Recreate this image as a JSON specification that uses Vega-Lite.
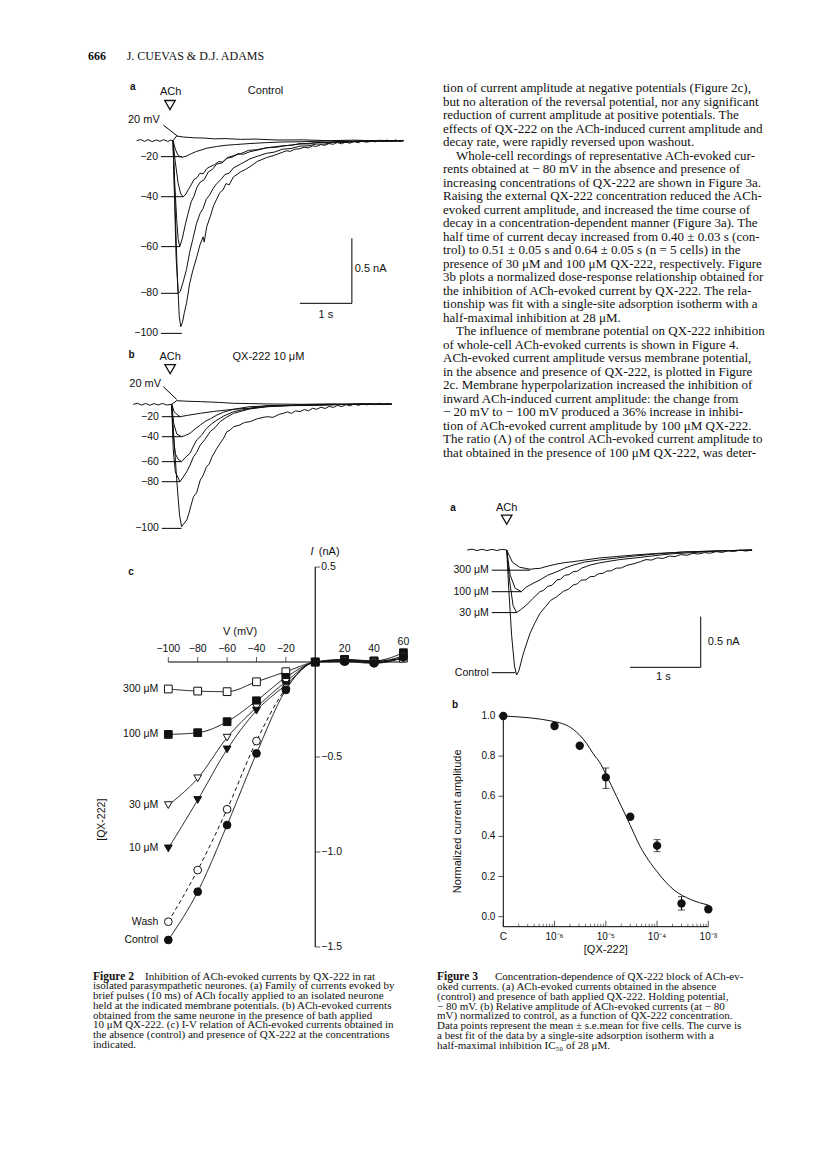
{
"$schema":"https://vega.github.io/schema/vega-lite/v6.json",
"background":"white",
"padding":{"left":85,"top":25,"right":5,"bottom":5},
"config":{"view":{"stroke":null},"mark":{"color":"#111"},"text":{"font":"Liberation Sans","fontSize":10.5,"color":"#111"},"axis":{"labelFont":"Liberation Sans","titleFont":"Liberation Sans","labelColor":"#111","titleColor":"#111","domainColor":"#111","tickColor":"#111"}},
"datasets":{
"tr2a":[
{"k":"+20","t":0,"i":0},{"k":"+20","t":0.07,"i":0.036},{"k":"+20","t":0.2,"i":0.028},{"k":"+20","t":0.4,"i":0.022},{"k":"+20","t":0.6,"i":0.02},{"k":"+20","t":0.8,"i":0.014},{"k":"+20","t":1.0,"i":0.016},{"k":"+20","t":1.3,"i":0.01},{"k":"+20","t":1.6,"i":0.012},{"k":"+20","t":2.0,"i":0.005},{"k":"+20","t":2.5,"i":0.006},{"k":"+20","t":3.0,"i":0.0},{"k":"+20","t":3.5,"i":0.004},{"k":"+20","t":4.0,"i":-0.003},{"k":"+20","t":4.43,"i":0.002},
{"k":"-20","t":0,"i":0},{"k":"-20","t":0.05,"i":-0.07},{"k":"-20","t":0.1,"i":-0.115},{"k":"-20","t":0.17,"i":-0.128},{"k":"-20","t":0.25,"i":-0.12},{"k":"-20","t":0.35,"i":-0.1},{"k":"-20","t":0.45,"i":-0.083},{"k":"-20","t":0.52,"i":-0.075},{"k":"-20","t":0.65,"i":-0.058},{"k":"-20","t":0.84,"i":-0.045},{"k":"-20","t":1.0,"i":-0.036},{"k":"-20","t":1.2,"i":-0.03},{"k":"-20","t":1.48,"i":-0.022},{"k":"-20","t":1.8,"i":-0.015},{"k":"-20","t":2.12,"i":-0.01},{"k":"-20","t":2.5,"i":-0.008},{"k":"-20","t":3.0,"i":-0.002},{"k":"-20","t":3.5,"i":-0.005},{"k":"-20","t":4.0,"i":0.002},{"k":"-20","t":4.43,"i":0},
{"k":"-40","t":0,"i":0},{"k":"-40","t":0.04,"i":-0.15},{"k":"-40","t":0.1,"i":-0.33},{"k":"-40","t":0.15,"i":-0.41},{"k":"-40","t":0.2,"i":-0.431},{"k":"-40","t":0.25,"i":-0.41},{"k":"-40","t":0.29,"i":-0.379},{"k":"-40","t":0.35,"i":-0.34},{"k":"-40","t":0.4,"i":-0.3},{"k":"-40","t":0.46,"i":-0.285},{"k":"-40","t":0.52,"i":-0.25},{"k":"-40","t":0.58,"i":-0.255},{"k":"-40","t":0.65,"i":-0.215},{"k":"-40","t":0.71,"i":-0.2},{"k":"-40","t":0.8,"i":-0.185},{"k":"-40","t":0.88,"i":-0.16},{"k":"-40","t":0.95,"i":-0.165},{"k":"-40","t":1.03,"i":-0.136},{"k":"-40","t":1.15,"i":-0.125},{"k":"-40","t":1.25,"i":-0.1},{"k":"-40","t":1.35,"i":-0.105},{"k":"-40","t":1.48,"i":-0.085},{"k":"-40","t":1.65,"i":-0.07},{"k":"-40","t":1.8,"i":-0.055},{"k":"-40","t":2.0,"i":-0.05},{"k":"-40","t":2.12,"i":-0.041},{"k":"-40","t":2.4,"i":-0.028},{"k":"-40","t":2.76,"i":-0.015},{"k":"-40","t":3.1,"i":-0.01},{"k":"-40","t":3.5,"i":-0.005},{"k":"-40","t":4.0,"i":0.0},{"k":"-40","t":4.43,"i":-0.003},
{"k":"-60","t":0,"i":0},{"k":"-60","t":0.03,"i":-0.3},{"k":"-60","t":0.07,"i":-0.6},{"k":"-60","t":0.1,"i":-0.76},{"k":"-60","t":0.13,"i":-0.815},{"k":"-60","t":0.18,"i":-0.75},{"k":"-60","t":0.24,"i":-0.64},{"k":"-60","t":0.29,"i":-0.56},{"k":"-60","t":0.35,"i":-0.47},{"k":"-60","t":0.4,"i":-0.43},{"k":"-60","t":0.46,"i":-0.36},{"k":"-60","t":0.52,"i":-0.32},{"k":"-60","t":0.6,"i":-0.3},{"k":"-60","t":0.68,"i":-0.24},{"k":"-60","t":0.76,"i":-0.22},{"k":"-60","t":0.84,"i":-0.18},{"k":"-60","t":0.95,"i":-0.17},{"k":"-60","t":1.05,"i":-0.13},{"k":"-60","t":1.16,"i":-0.115},{"k":"-60","t":1.3,"i":-0.1},{"k":"-60","t":1.45,"i":-0.075},{"k":"-60","t":1.6,"i":-0.07},{"k":"-60","t":1.8,"i":-0.055},{"k":"-60","t":2.1,"i":-0.04},{"k":"-60","t":2.3,"i":-0.034},{"k":"-60","t":2.44,"i":-0.022},{"k":"-60","t":2.6,"i":-0.026},{"k":"-60","t":2.8,"i":-0.012},{"k":"-60","t":3.0,"i":-0.016},{"k":"-60","t":3.2,"i":-0.005},{"k":"-60","t":3.45,"i":-0.01},{"k":"-60","t":3.7,"i":0.0},{"k":"-60","t":4.0,"i":-0.006},{"k":"-60","t":4.43,"i":0},
{"k":"-80","t":0,"i":0},{"k":"-80","t":0.03,"i":-0.45},{"k":"-80","t":0.06,"i":-0.9},{"k":"-80","t":0.1,"i":-1.174},{"k":"-80","t":0.14,"i":-1.16},{"k":"-80","t":0.2,"i":-1.08},{"k":"-80","t":0.26,"i":-0.99},{"k":"-80","t":0.32,"i":-0.86},{"k":"-80","t":0.38,"i":-0.76},{"k":"-80","t":0.45,"i":-0.64},{"k":"-80","t":0.52,"i":-0.56},{"k":"-80","t":0.58,"i":-0.52},{"k":"-80","t":0.64,"i":-0.45},{"k":"-80","t":0.7,"i":-0.42},{"k":"-80","t":0.77,"i":-0.37},{"k":"-80","t":0.84,"i":-0.33},{"k":"-80","t":0.92,"i":-0.3},{"k":"-80","t":1.0,"i":-0.26},{"k":"-80","t":1.08,"i":-0.25},{"k":"-80","t":1.16,"i":-0.21},{"k":"-80","t":1.3,"i":-0.18},{"k":"-80","t":1.48,"i":-0.14},{"k":"-80","t":1.62,"i":-0.12},{"k":"-80","t":1.8,"i":-0.097},{"k":"-80","t":1.95,"i":-0.088},{"k":"-80","t":2.1,"i":-0.066},{"k":"-80","t":2.27,"i":-0.06},{"k":"-80","t":2.44,"i":-0.042},{"k":"-80","t":2.6,"i":-0.04},{"k":"-80","t":2.75,"i":-0.026},{"k":"-80","t":2.92,"i":-0.026},{"k":"-80","t":3.08,"i":-0.012},{"k":"-80","t":3.3,"i":-0.014},{"k":"-80","t":3.5,"i":-0.004},{"k":"-80","t":3.75,"i":-0.009},{"k":"-80","t":4.0,"i":0.002},{"k":"-80","t":4.2,"i":-0.005},{"k":"-80","t":4.43,"i":0},
{"k":"-100","t":-0.7,"i":0},{"k":"-100","t":-0.62,"i":0.009},{"k":"-100","t":-0.55,"i":-0.006},{"k":"-100","t":-0.48,"i":0.008},{"k":"-100","t":-0.4,"i":-0.007},{"k":"-100","t":-0.32,"i":0.006},{"k":"-100","t":-0.25,"i":-0.005},{"k":"-100","t":-0.18,"i":0.008},{"k":"-100","t":-0.1,"i":-0.006},{"k":"-100","t":-0.04,"i":0.004},{"k":"-100","t":0,"i":0},{"k":"-100","t":0.04,"i":-0.5},{"k":"-100","t":0.08,"i":-1.0},{"k":"-100","t":0.12,"i":-1.35},{"k":"-100","t":0.15,"i":-1.431},{"k":"-100","t":0.18,"i":-1.4},{"k":"-100","t":0.22,"i":-1.32},{"k":"-100","t":0.26,"i":-1.25},{"k":"-100","t":0.32,"i":-1.1},{"k":"-100","t":0.38,"i":-1.0},{"k":"-100","t":0.46,"i":-0.89},{"k":"-100","t":0.52,"i":-0.8},{"k":"-100","t":0.58,"i":-0.74},{"k":"-100","t":0.6,"i":-0.78},{"k":"-100","t":0.65,"i":-0.66},{"k":"-100","t":0.72,"i":-0.58},{"k":"-100","t":0.78,"i":-0.5},{"k":"-100","t":0.84,"i":-0.45},{"k":"-100","t":0.9,"i":-0.4},{"k":"-100","t":0.96,"i":-0.38},{"k":"-100","t":1.02,"i":-0.33},{"k":"-100","t":1.08,"i":-0.34},{"k":"-100","t":1.16,"i":-0.28},{"k":"-100","t":1.3,"i":-0.24},{"k":"-100","t":1.4,"i":-0.22},{"k":"-100","t":1.48,"i":-0.2},{"k":"-100","t":1.62,"i":-0.16},{"k":"-100","t":1.8,"i":-0.13},{"k":"-100","t":1.95,"i":-0.112},{"k":"-100","t":2.1,"i":-0.09},{"k":"-100","t":2.18,"i":-0.078},{"k":"-100","t":2.26,"i":-0.082},{"k":"-100","t":2.34,"i":-0.066},{"k":"-100","t":2.44,"i":-0.062},{"k":"-100","t":2.52,"i":-0.05},{"k":"-100","t":2.6,"i":-0.056},{"k":"-100","t":2.68,"i":-0.04},{"k":"-100","t":2.76,"i":-0.044},{"k":"-100","t":2.84,"i":-0.03},{"k":"-100","t":2.92,"i":-0.036},{"k":"-100","t":3.0,"i":-0.022},{"k":"-100","t":3.08,"i":-0.028},{"k":"-100","t":3.16,"i":-0.014},{"k":"-100","t":3.24,"i":-0.024},{"k":"-100","t":3.32,"i":-0.01},{"k":"-100","t":3.4,"i":-0.02},{"k":"-100","t":3.48,"i":-0.006},{"k":"-100","t":3.56,"i":-0.016},{"k":"-100","t":3.64,"i":-0.002},{"k":"-100","t":3.72,"i":-0.012},{"k":"-100","t":3.8,"i":0.002},{"k":"-100","t":3.88,"i":-0.01},{"k":"-100","t":3.96,"i":0.004},{"k":"-100","t":4.04,"i":-0.008},{"k":"-100","t":4.12,"i":0.004},{"k":"-100","t":4.2,"i":-0.006},{"k":"-100","t":4.28,"i":0.005},{"k":"-100","t":4.36,"i":-0.004},{"k":"-100","t":4.43,"i":0.002}
],
"tr2b":[
{"k":"+20","t":0,"i":0},{"k":"+20","t":0.096,"i":0.028},{"k":"+20","t":0.3,"i":0.024},{"k":"+20","t":0.55,"i":0.021},{"k":"+20","t":0.9,"i":0.015},{"k":"+20","t":1.19,"i":0.008},{"k":"+20","t":1.5,"i":0.006},{"k":"+20","t":1.83,"i":0.003},{"k":"+20","t":2.5,"i":0.0},{"k":"+20","t":3.1,"i":0.004},{"k":"+20","t":3.6,"i":-0.002},{"k":"+20","t":4.23,"i":0.002},
{"k":"-20","t":0,"i":0},{"k":"-20","t":0.05,"i":-0.06},{"k":"-20","t":0.16,"i":-0.095},{"k":"-20","t":0.3,"i":-0.085},{"k":"-20","t":0.55,"i":-0.069},{"k":"-20","t":0.8,"i":-0.055},{"k":"-20","t":1.19,"i":-0.038},{"k":"-20","t":1.5,"i":-0.03},{"k":"-20","t":1.83,"i":-0.01},{"k":"-20","t":2.3,"i":-0.008},{"k":"-20","t":3.0,"i":-0.003},{"k":"-20","t":3.6,"i":0.003},{"k":"-20","t":4.23,"i":0},
{"k":"-40","t":0,"i":0},{"k":"-40","t":0.04,"i":-0.15},{"k":"-40","t":0.1,"i":-0.23},{"k":"-40","t":0.19,"i":-0.249},{"k":"-40","t":0.26,"i":-0.24},{"k":"-40","t":0.35,"i":-0.223},{"k":"-40","t":0.45,"i":-0.19},{"k":"-40","t":0.55,"i":-0.159},{"k":"-40","t":0.65,"i":-0.13},{"k":"-40","t":0.75,"i":-0.11},{"k":"-40","t":0.87,"i":-0.082},{"k":"-40","t":1.0,"i":-0.06},{"k":"-40","t":1.19,"i":-0.038},{"k":"-40","t":1.5,"i":-0.018},{"k":"-40","t":2.0,"i":-0.01},{"k":"-40","t":2.6,"i":-0.005},{"k":"-40","t":3.3,"i":0},{"k":"-40","t":4.23,"i":0.002},
{"k":"-60","t":0,"i":0},{"k":"-60","t":0.03,"i":-0.25},{"k":"-60","t":0.07,"i":-0.38},{"k":"-60","t":0.12,"i":-0.42},{"k":"-60","t":0.19,"i":-0.441},{"k":"-60","t":0.26,"i":-0.41},{"k":"-60","t":0.35,"i":-0.377},{"k":"-60","t":0.42,"i":-0.32},{"k":"-60","t":0.48,"i":-0.274},{"k":"-60","t":0.57,"i":-0.24},{"k":"-60","t":0.67,"i":-0.185},{"k":"-60","t":0.77,"i":-0.15},{"k":"-60","t":0.87,"i":-0.121},{"k":"-60","t":1.0,"i":-0.09},{"k":"-60","t":1.19,"i":-0.056},{"k":"-60","t":1.5,"i":-0.031},{"k":"-60","t":1.83,"i":-0.018},{"k":"-60","t":2.3,"i":-0.01},{"k":"-60","t":3.0,"i":-0.005},{"k":"-60","t":3.6,"i":0.002},{"k":"-60","t":4.23,"i":0},
{"k":"-80","t":0,"i":0},{"k":"-80","t":0.03,"i":-0.35},{"k":"-80","t":0.07,"i":-0.52},{"k":"-80","t":0.16,"i":-0.595},{"k":"-80","t":0.22,"i":-0.56},{"k":"-80","t":0.29,"i":-0.518},{"k":"-80","t":0.35,"i":-0.47},{"k":"-80","t":0.42,"i":-0.403},{"k":"-80","t":0.48,"i":-0.37},{"k":"-80","t":0.55,"i":-0.313},{"k":"-80","t":0.64,"i":-0.27},{"k":"-80","t":0.74,"i":-0.21},{"k":"-80","t":0.83,"i":-0.18},{"k":"-80","t":0.93,"i":-0.133},{"k":"-80","t":1.05,"i":-0.1},{"k":"-80","t":1.19,"i":-0.069},{"k":"-80","t":1.5,"i":-0.036},{"k":"-80","t":1.83,"i":-0.018},{"k":"-80","t":2.47,"i":-0.005},{"k":"-80","t":3.1,"i":-0.002},{"k":"-80","t":3.7,"i":0.003},{"k":"-80","t":4.23,"i":0},
{"k":"-100","t":-0.74,"i":0},{"k":"-100","t":-0.66,"i":0.008},{"k":"-100","t":-0.58,"i":-0.006},{"k":"-100","t":-0.5,"i":0.007},{"k":"-100","t":-0.42,"i":-0.007},{"k":"-100","t":-0.34,"i":0.006},{"k":"-100","t":-0.26,"i":-0.005},{"k":"-100","t":-0.18,"i":0.007},{"k":"-100","t":-0.1,"i":-0.005},{"k":"-100","t":0,"i":0},{"k":"-100","t":0.05,"i":-0.3},{"k":"-100","t":0.1,"i":-0.6},{"k":"-100","t":0.15,"i":-0.85},{"k":"-100","t":0.19,"i":-0.941},{"k":"-100","t":0.23,"i":-0.92},{"k":"-100","t":0.29,"i":-0.89},{"k":"-100","t":0.33,"i":-0.84},{"k":"-100","t":0.37,"i":-0.78},{"k":"-100","t":0.42,"i":-0.71},{"k":"-100","t":0.48,"i":-0.68},{"k":"-100","t":0.55,"i":-0.582},{"k":"-100","t":0.6,"i":-0.55},{"k":"-100","t":0.67,"i":-0.479},{"k":"-100","t":0.72,"i":-0.46},{"k":"-100","t":0.78,"i":-0.4},{"k":"-100","t":0.87,"i":-0.338},{"k":"-100","t":0.93,"i":-0.3},{"k":"-100","t":1.0,"i":-0.26},{"k":"-100","t":1.06,"i":-0.21},{"k":"-100","t":1.12,"i":-0.2},{"k":"-100","t":1.19,"i":-0.172},{"k":"-100","t":1.3,"i":-0.16},{"k":"-100","t":1.4,"i":-0.14},{"k":"-100","t":1.51,"i":-0.133},{"k":"-100","t":1.65,"i":-0.11},{"k":"-100","t":1.83,"i":-0.095},{"k":"-100","t":1.95,"i":-0.1},{"k":"-100","t":2.07,"i":-0.076},{"k":"-100","t":2.15,"i":-0.069},{"k":"-100","t":2.23,"i":-0.058},{"k":"-100","t":2.3,"i":-0.07},{"k":"-100","t":2.38,"i":-0.05},{"k":"-100","t":2.47,"i":-0.056},{"k":"-100","t":2.55,"i":-0.04},{"k":"-100","t":2.63,"i":-0.05},{"k":"-100","t":2.71,"i":-0.03},{"k":"-100","t":2.79,"i":-0.038},{"k":"-100","t":2.87,"i":-0.022},{"k":"-100","t":2.95,"i":-0.032},{"k":"-100","t":3.03,"i":-0.016},{"k":"-100","t":3.11,"i":-0.024},{"k":"-100","t":3.19,"i":-0.008},{"k":"-100","t":3.27,"i":-0.018},{"k":"-100","t":3.35,"i":-0.002},{"k":"-100","t":3.43,"i":-0.012},{"k":"-100","t":3.51,"i":0.004},{"k":"-100","t":3.59,"i":-0.008},{"k":"-100","t":3.67,"i":0.006},{"k":"-100","t":3.75,"i":-0.004},{"k":"-100","t":3.83,"i":0.007},{"k":"-100","t":3.91,"i":-0.003},{"k":"-100","t":3.99,"i":0.008},{"k":"-100","t":4.07,"i":-0.002},{"k":"-100","t":4.15,"i":0.006},{"k":"-100","t":4.23,"i":0.0}
],
"tr3a":[
{"k":"C","t":-0.56,"i":0},{"k":"C","t":-0.49,"i":0.008},{"k":"C","t":-0.42,"i":-0.006},{"k":"C","t":-0.35,"i":0.007},{"k":"C","t":-0.28,"i":-0.006},{"k":"C","t":-0.21,"i":0.006},{"k":"C","t":-0.14,"i":-0.005},{"k":"C","t":-0.07,"i":0.006},{"k":"C","t":0,"i":0},{"k":"C","t":0.03,"i":-0.4},{"k":"C","t":0.07,"i":-0.85},{"k":"C","t":0.11,"i":-1.15},{"k":"C","t":0.14,"i":-1.238},{"k":"C","t":0.17,"i":-1.2},{"k":"C","t":0.2,"i":-1.12},{"k":"C","t":0.236,"i":-1.023},{"k":"C","t":0.28,"i":-0.93},{"k":"C","t":0.33,"i":-0.825},{"k":"C","t":0.4,"i":-0.72},{"k":"C","t":0.47,"i":-0.627},{"k":"C","t":0.55,"i":-0.56},{"k":"C","t":0.62,"i":-0.5},{"k":"C","t":0.71,"i":-0.462},{"k":"C","t":0.8,"i":-0.41},{"k":"C","t":0.87,"i":-0.39},{"k":"C","t":0.94,"i":-0.347},{"k":"C","t":1.0,"i":-0.335},{"k":"C","t":1.05,"i":-0.3},{"k":"C","t":1.12,"i":-0.295},{"k":"C","t":1.18,"i":-0.264},{"k":"C","t":1.24,"i":-0.262},{"k":"C","t":1.3,"i":-0.235},{"k":"C","t":1.36,"i":-0.232},{"k":"C","t":1.41,"i":-0.21},{"k":"C","t":1.48,"i":-0.205},{"k":"C","t":1.55,"i":-0.18},{"k":"C","t":1.62,"i":-0.178},{"k":"C","t":1.7,"i":-0.152},{"k":"C","t":1.8,"i":-0.136},{"k":"C","t":1.89,"i":-0.116},{"k":"C","t":1.97,"i":-0.095},{"k":"C","t":2.05,"i":-0.1},{"k":"C","t":2.13,"i":-0.078},{"k":"C","t":2.21,"i":-0.084},{"k":"C","t":2.3,"i":-0.06},{"k":"C","t":2.38,"i":-0.066},{"k":"C","t":2.46,"i":-0.046},{"k":"C","t":2.55,"i":-0.052},{"k":"C","t":2.63,"i":-0.034},{"k":"C","t":2.71,"i":-0.04},{"k":"C","t":2.8,"i":-0.026},{"k":"C","t":2.88,"i":-0.032},{"k":"C","t":2.96,"i":-0.016},{"k":"C","t":3.05,"i":-0.024},{"k":"C","t":3.13,"i":-0.008},{"k":"C","t":3.21,"i":-0.016},{"k":"C","t":3.3,"i":-0.002},{"k":"C","t":3.38,"i":-0.01},{"k":"C","t":3.47,"i":-0.002},
{"k":"30","t":0,"i":0},{"k":"30","t":0.04,"i":-0.3},{"k":"30","t":0.09,"i":-0.55},{"k":"30","t":0.14,"i":-0.62},{"k":"30","t":0.2,"i":-0.59},{"k":"30","t":0.28,"i":-0.545},{"k":"30","t":0.37,"i":-0.48},{"k":"30","t":0.47,"i":-0.413},{"k":"30","t":0.52,"i":-0.4},{"k":"30","t":0.58,"i":-0.36},{"k":"30","t":0.64,"i":-0.35},{"k":"30","t":0.71,"i":-0.297},{"k":"30","t":0.76,"i":-0.29},{"k":"30","t":0.82,"i":-0.25},{"k":"30","t":0.88,"i":-0.245},{"k":"30","t":0.94,"i":-0.215},{"k":"30","t":1.0,"i":-0.21},{"k":"30","t":1.06,"i":-0.18},{"k":"30","t":1.18,"i":-0.149},{"k":"30","t":1.3,"i":-0.13},{"k":"30","t":1.41,"i":-0.116},{"k":"30","t":1.6,"i":-0.095},{"k":"30","t":1.8,"i":-0.08},{"k":"30","t":2.05,"i":-0.06},{"k":"30","t":2.3,"i":-0.04},{"k":"30","t":2.65,"i":-0.025},{"k":"30","t":3.0,"i":-0.01},{"k":"30","t":3.47,"i":0},
{"k":"100","t":0,"i":0},{"k":"100","t":0.05,"i":-0.25},{"k":"100","t":0.12,"i":-0.38},{"k":"100","t":0.21,"i":-0.413},{"k":"100","t":0.27,"i":-0.37},{"k":"100","t":0.33,"i":-0.347},{"k":"100","t":0.4,"i":-0.32},{"k":"100","t":0.47,"i":-0.297},{"k":"100","t":0.58,"i":-0.25},{"k":"100","t":0.71,"i":-0.215},{"k":"100","t":0.82,"i":-0.18},{"k":"100","t":0.94,"i":-0.149},{"k":"100","t":1.1,"i":-0.12},{"k":"100","t":1.3,"i":-0.1},{"k":"100","t":1.55,"i":-0.08},{"k":"100","t":1.8,"i":-0.06},{"k":"100","t":2.1,"i":-0.04},{"k":"100","t":2.5,"i":-0.02},{"k":"100","t":3.0,"i":-0.01},{"k":"100","t":3.47,"i":0},
{"k":"300","t":0,"i":0},{"k":"300","t":0.08,"i":-0.12},{"k":"300","t":0.18,"i":-0.17},{"k":"300","t":0.33,"i":-0.191},{"k":"300","t":0.4,"i":-0.185},{"k":"300","t":0.47,"i":-0.182},{"k":"300","t":0.58,"i":-0.16},{"k":"300","t":0.71,"i":-0.139},{"k":"300","t":0.82,"i":-0.125},{"k":"300","t":0.94,"i":-0.116},{"k":"300","t":1.1,"i":-0.1},{"k":"300","t":1.3,"i":-0.08},{"k":"300","t":1.55,"i":-0.065},{"k":"300","t":1.8,"i":-0.05},{"k":"300","t":2.1,"i":-0.035},{"k":"300","t":2.5,"i":-0.02},{"k":"300","t":3.0,"i":-0.008},{"k":"300","t":3.47,"i":0}
],
"lab2a":[{"v":"−20","x0":-0.23,"pt":0.17,"li":-0.123},{"v":"−40","x0":-0.23,"pt":0.2,"li":-0.431},{"v":"−60","x0":-0.23,"pt":0.13,"li":-0.815},{"v":"−80","x0":-0.23,"pt":0.1,"li":-1.174},{"v":"−100","x0":-0.23,"pt":0.17,"li":-1.482}],
"ann2a":[{"txt":"ACh","x":-0.045,"y":0.377},{"txt":"Control","x":1.78,"y":0.385},{"txt":"20 mV","x":-0.56,"y":0.16},{"txt":"0.5 nA","x":3.8,"y":-0.987},{"txt":"1 s","x":2.94,"y":-1.341}],
"seg2a":[{"x":-0.186,"y":0.12,"x2":0.083,"y2":0.036},{"x":2.44,"y":-1.251,"x2":3.44,"y2":-1.251},{"x":3.44,"y":-0.751,"x2":3.44,"y2":-1.251}],
"lab2b":[{"v":"−20","x0":-0.19,"pt":0.16,"li":-0.095},{"v":"−40","x0":-0.19,"pt":0.19,"li":-0.249},{"v":"−60","x0":-0.19,"pt":0.19,"li":-0.441},{"v":"−80","x0":-0.19,"pt":0.16,"li":-0.595},{"v":"−100","x0":-0.19,"pt":0.19,"li":-0.954}],
"ann2b":[{"txt":"ACh","x":-0.03,"y":0.362},{"txt":"QX-222 10 μM","x":1.86,"y":0.362},{"txt":"20 mV","x":-0.51,"y":0.154}],
"seg2b":[{"x":-0.16,"y":0.135,"x2":0.096,"y2":0.038}],
"lab3a":[{"v":"300 μM","x0":-0.212,"pt":0.33,"li":-0.2},{"v":"100 μM","x0":-0.212,"pt":0.21,"li":-0.413},{"v":"30 μM","x0":-0.212,"pt":0.14,"li":-0.62},{"v":"Control","x0":-0.212,"pt":0.12,"li":-1.215}],
"ann3a":[{"txt":"ACh","x":0.0,"y":0.42},{"txt":"0.5 nA","x":3.07,"y":-0.908},{"txt":"1 s","x":2.216,"y":-1.254}],
"seg3a":[{"x":1.744,"y":-1.162,"x2":2.744,"y2":-1.162},{"x":2.744,"y":-0.66,"x2":2.744,"y2":-1.162}],
"iv":[
{"s":"300 μM","v":-100,"i":-0.142},{"s":"300 μM","v":-80,"i":-0.153},{"s":"300 μM","v":-60,"i":-0.156},{"s":"300 μM","v":-40,"i":-0.104},{"s":"300 μM","v":-20,"i":-0.051},{"s":"300 μM","v":0,"i":0},{"s":"300 μM","v":20,"i":0.01},{"s":"300 μM","v":40,"i":0.004},{"s":"300 μM","v":60,"i":0.02},
{"s":"100 μM","v":-100,"i":-0.381},{"s":"100 μM","v":-80,"i":-0.372},{"s":"100 μM","v":-60,"i":-0.314},{"s":"100 μM","v":-40,"i":-0.204},{"s":"100 μM","v":-20,"i":-0.081},{"s":"100 μM","v":0,"i":0},{"s":"100 μM","v":20,"i":0.014},{"s":"100 μM","v":40,"i":0.006},{"s":"100 μM","v":60,"i":0.049},
{"s":"30 μM","v":-100,"i":-0.753},{"s":"30 μM","v":-80,"i":-0.612},{"s":"30 μM","v":-60,"i":-0.398},{"s":"30 μM","v":-40,"i":-0.239},{"s":"30 μM","v":-20,"i":-0.104},{"s":"30 μM","v":0,"i":0},{"s":"30 μM","v":20,"i":0.008},{"s":"30 μM","v":40,"i":-0.004},{"s":"30 μM","v":60,"i":0.02},
{"s":"10 μM","v":-100,"i":-0.981},{"s":"10 μM","v":-80,"i":-0.726},{"s":"10 μM","v":-60,"i":-0.46},{"s":"10 μM","v":-40,"i":-0.256},{"s":"10 μM","v":-20,"i":-0.121},{"s":"10 μM","v":0,"i":0},{"s":"10 μM","v":20,"i":0.007},{"s":"10 μM","v":40,"i":0.002},{"s":"10 μM","v":60,"i":0.032},
{"s":"Wash","v":-100,"i":-1.367},{"s":"Wash","v":-80,"i":-1.095},{"s":"Wash","v":-60,"i":-0.775},{"s":"Wash","v":-40,"i":-0.416},{"s":"Wash","v":-20,"i":-0.139},{"s":"Wash","v":0,"i":0},{"s":"Wash","v":20,"i":0.006},{"s":"Wash","v":40,"i":-0.002},{"s":"Wash","v":60,"i":0.028},
{"s":"Control","v":-100,"i":-1.463},{"s":"Control","v":-80,"i":-1.209},{"s":"Control","v":-60,"i":-0.858},{"s":"Control","v":-40,"i":-0.481},{"s":"Control","v":-20,"i":-0.147},{"s":"Control","v":0,"i":0},{"s":"Control","v":20,"i":0.002},{"s":"Control","v":40,"i":-0.007},{"s":"Control","v":60,"i":0.025}
],
"axes2c":[{"x":-100,"y":0,"x2":60,"y2":0},{"x":0,"y":-1.5,"x2":0,"y2":0.5}],
"vt":[{"v":-100,"l":"−100"},{"v":-80,"l":"−80"},{"v":-60,"l":"−60"},{"v":-40,"l":"−40"},{"v":-20,"l":"−20"},{"v":20,"l":"20"},{"v":40,"l":"40"},{"v":60,"l":"60"}],
"it":[{"i":0.5,"l":"0.5"},{"i":-0.5,"l":"−0.5"},{"i":-1.0,"l":"−1.0"},{"i":-1.5,"l":"−1.5"}],
"ann2c":[{"txt":"V (mV)","x":-51.2,"y":0.159},{"txt":"(nA)","x":9.5,"y":0.577}],
"dr":[{"c":1e-7,"y":1.0},{"c":1e-6,"y":0.95,"lo":0.94,"hi":0.962},{"c":3.1e-6,"y":0.852},{"c":1e-5,"y":0.694,"lo":0.639,"hi":0.741},{"c":3e-5,"y":0.498},{"c":1e-4,"y":0.354,"lo":0.324,"hi":0.384},{"c":3e-4,"y":0.066,"lo":0.033,"hi":0.1},{"c":1e-3,"y":0.037}],
"fit":[{"c":1e-7,"y":1.0},{"c":1e-6,"y":0.972},{"c":2.3e-6,"y":0.934},{"c":4.2e-6,"y":0.864},{"c":5.6e-6,"y":0.814},{"c":8e-6,"y":0.76},{"c":1e-5,"y":0.711},{"c":1.63e-5,"y":0.598},{"c":2.6e-5,"y":0.49},{"c":4.7e-5,"y":0.349},{"c":1e-4,"y":0.224},{"c":2.14e-4,"y":0.133},{"c":4.5e-4,"y":0.086},{"c":1e-3,"y":0.058}],
"ax3b":[{"x":1e-7,"y":-0.05,"x2":1e-7,"y2":1.0},{"x":1e-7,"y":-0.05,"x2":1e-3,"y2":-0.05}],
"yt3b":[{"y":0,"l":"0.0"},{"y":0.2,"l":"0.2"},{"y":0.4,"l":"0.4"},{"y":0.6,"l":"0.6"},{"y":0.8,"l":"0.8"},{"y":1.0,"l":"1.0"}],
"major":[{"c":1e-7,"l":"C"},{"c":1e-6,"l":"10⁻⁶"},{"c":1e-5,"l":"10⁻⁵"},{"c":1e-4,"l":"10⁻⁴"},{"c":1e-3,"l":"10⁻³"}],
"minor":[{"c":2e-7},{"c":3e-7},{"c":4e-7},{"c":5e-7},{"c":6e-7},{"c":7e-7},{"c":8e-7},{"c":9e-7},{"c":2e-6},{"c":3e-6},{"c":4e-6},{"c":5e-6},{"c":6e-6},{"c":7e-6},{"c":8e-6},{"c":9e-6},{"c":2e-5},{"c":3e-5},{"c":4e-5},{"c":5e-5},{"c":6e-5},{"c":7e-5},{"c":8e-5},{"c":9e-5},{"c":2e-4},{"c":3e-4},{"c":4e-4},{"c":5e-4},{"c":6e-4},{"c":7e-4},{"c":8e-4},{"c":9e-4}]
},
"spacing":7,
"hconcat":[
{"bounds":"flush","spacing":0,"vconcat":[
 {"width":345,"height":53,"data":{"values":[{"a":1}]},
  "layer":[
   {"mark":{"type":"text","text":"666","font":"Liberation Serif","fontWeight":"bold","fontSize":12,"align":"left","baseline":"middle"},
    "encoding":{"x":{"datum":3,"type":"quantitative","scale":{"domain":[0,345],"nice":false,"zero":false},"axis":null},"y":{"datum":22,"type":"quantitative","scale":{"domain":[0,53],"nice":false,"zero":false},"axis":null}}},
   {"mark":{"type":"text","text":"J. CUEVAS & D.J. ADAMS","font":"Liberation Serif","fontSize":12,"align":"left","baseline":"middle"},
    "encoding":{"x":{"datum":41.7,"type":"quantitative"},"y":{"datum":22,"type":"quantitative"}}}
  ]},
 {"width":345,"height":259,
  "layer":[
   {"data":{"name":"tr2a"},"mark":{"type":"line","strokeWidth":1},
    "encoding":{"x":{"field":"t","type":"quantitative","scale":{"domain":[-1.692,4.942],"nice":false,"zero":false},"axis":null},
     "y":{"field":"i","type":"quantitative","scale":{"domain":[-1.51,0.482],"nice":false,"zero":false},"axis":null},
     "detail":{"field":"k","type":"nominal"}}},
   {"data":{"name":"lab2a"},"mark":{"type":"rule","strokeWidth":1},"encoding":{"x":{"field":"x0","type":"quantitative"},"x2":{"field":"pt"},"y":{"field":"li","type":"quantitative"}}},
   {"data":{"name":"lab2a"},"mark":{"type":"text","align":"right","baseline":"middle","dx":-3},"encoding":{"x":{"field":"x0","type":"quantitative"},"y":{"field":"li","type":"quantitative"},"text":{"field":"v","type":"nominal"}}},
   {"data":{"name":"seg2a"},"mark":{"type":"rule","strokeWidth":1},"encoding":{"x":{"field":"x","type":"quantitative"},"y":{"field":"y","type":"quantitative"},"x2":{"field":"x2"},"y2":{"field":"y2"}}},
   {"data":{"name":"ann2a"},"mark":{"type":"text","align":"center","baseline":"middle","fontSize":11},"encoding":{"x":{"field":"x","type":"quantitative"},"y":{"field":"y","type":"quantitative"},"text":{"field":"txt","type":"nominal"}}},
   {"data":{"values":[{"x":-0.775,"y":0.415}]},"mark":{"type":"text","text":"a","fontWeight":"bold","fontSize":10,"baseline":"middle"},"encoding":{"x":{"field":"x","type":"quantitative"},"y":{"field":"y","type":"quantitative"}}},
   {"data":{"values":[{"x":-0.058,"y":0.274}]},"mark":{"type":"point","shape":"triangle-down","size":110,"filled":false,"stroke":"#111","strokeWidth":1.3,"opacity":1},"encoding":{"x":{"field":"x","type":"quantitative"},"y":{"field":"y","type":"quantitative"}}}
  ]},
 {"width":345,"height":208,
  "layer":[
   {"data":{"name":"tr2b"},"mark":{"type":"line","strokeWidth":1},
    "encoding":{"x":{"field":"t","type":"quantitative","scale":{"domain":[-1.667,4.967],"nice":false,"zero":false},"axis":null},
     "y":{"field":"i","type":"quantitative","scale":{"domain":[-1.082,0.518],"nice":false,"zero":false},"axis":null},
     "detail":{"field":"k","type":"nominal"}}},
   {"data":{"name":"lab2b"},"mark":{"type":"rule","strokeWidth":1},"encoding":{"x":{"field":"x0","type":"quantitative"},"x2":{"field":"pt"},"y":{"field":"li","type":"quantitative"}}},
   {"data":{"name":"lab2b"},"mark":{"type":"text","align":"right","baseline":"middle","dx":-3},"encoding":{"x":{"field":"x0","type":"quantitative"},"y":{"field":"li","type":"quantitative"},"text":{"field":"v","type":"nominal"}}},
   {"data":{"name":"seg2b"},"mark":{"type":"rule","strokeWidth":1},"encoding":{"x":{"field":"x","type":"quantitative"},"y":{"field":"y","type":"quantitative"},"x2":{"field":"x2"},"y2":{"field":"y2"}}},
   {"data":{"name":"ann2b"},"mark":{"type":"text","align":"center","baseline":"middle","fontSize":11},"encoding":{"x":{"field":"x","type":"quantitative"},"y":{"field":"y","type":"quantitative"},"text":{"field":"txt","type":"nominal"}}},
   {"data":{"values":[{"x":-0.77,"y":0.379}]},"mark":{"type":"text","text":"b","fontWeight":"bold","fontSize":10,"baseline":"middle"},"encoding":{"x":{"field":"x","type":"quantitative"},"y":{"field":"y","type":"quantitative"}}},
   {"data":{"values":[{"x":-0.03,"y":0.27}]},"mark":{"type":"point","shape":"triangle-down","size":110,"filled":false,"stroke":"#111","strokeWidth":1.3,"opacity":1},"encoding":{"x":{"field":"x","type":"quantitative"},"y":{"field":"y","type":"quantitative"}}}
  ]},
 {"width":345,"height":417,
  "layer":[
   {"data":{"name":"axes2c"},"mark":{"type":"rule","strokeWidth":1.1},
    "encoding":{"x":{"field":"x","type":"quantitative","scale":{"domain":[-156.7,78.1],"nice":false,"zero":false},"axis":null},
     "y":{"field":"y","type":"quantitative","scale":{"domain":[-1.579,0.616],"nice":false,"zero":false},"axis":null},
     "x2":{"field":"x2"},"y2":{"field":"y2"}}},
   {"data":{"name":"vt"},"mark":{"type":"tick","orient":"vertical","size":5,"thickness":1,"yOffset":-2.5},"encoding":{"x":{"field":"v","type":"quantitative"},"y":{"datum":0,"type":"quantitative"}}},
   {"data":{"name":"vt"},"transform":[{"filter":"datum.v != 60"}],"mark":{"type":"text","baseline":"middle","align":"center"},"encoding":{"x":{"field":"v","type":"quantitative"},"y":{"datum":0.068,"type":"quantitative"},"text":{"field":"l","type":"nominal"}}},
   {"data":{"name":"vt"},"transform":[{"filter":"datum.v == 60"}],"mark":{"type":"text","baseline":"middle","align":"center","dy":-7},"encoding":{"x":{"field":"v","type":"quantitative"},"y":{"datum":0.068,"type":"quantitative"},"text":{"field":"l","type":"nominal"}}},
   {"data":{"name":"it"},"mark":{"type":"tick","orient":"horizontal","size":5,"thickness":1,"xOffset":2.5},"encoding":{"y":{"field":"i","type":"quantitative"},"x":{"datum":0,"type":"quantitative"}}},
   {"data":{"name":"it"},"mark":{"type":"text","align":"left","baseline":"middle","dx":6},"encoding":{"y":{"field":"i","type":"quantitative"},"x":{"datum":0,"type":"quantitative"},"text":{"field":"l","type":"nominal"}}},
   {"data":{"name":"iv"},"mark":{"type":"line","interpolate":"monotone","strokeWidth":1},
    "encoding":{"x":{"field":"v","type":"quantitative"},"y":{"field":"i","type":"quantitative"},"detail":{"field":"s","type":"nominal"},
     "strokeDash":{"field":"s","type":"nominal","scale":{"domain":["300 μM","100 μM","30 μM","10 μM","Wash","Control"],"range":[[1,0],[1,0],[1,0],[1,0],[4,3],[1,0]]},"legend":null}}},
   {"data":{"name":"iv"},"mark":{"type":"point","filled":true,"stroke":"#111","strokeWidth":1,"opacity":1,"size":60},
    "encoding":{"x":{"field":"v","type":"quantitative"},"y":{"field":"i","type":"quantitative"},
     "shape":{"field":"s","type":"nominal","scale":{"domain":["300 μM","100 μM","30 μM","10 μM","Wash","Control"],"range":["square","square","triangle-down","triangle-down","circle","circle"]},"legend":null},
     "fill":{"field":"s","type":"nominal","scale":{"domain":["300 μM","100 μM","30 μM","10 μM","Wash","Control"],"range":["white","#111","white","#111","white","#111"]},"legend":null}}},
   {"data":{"name":"iv"},"transform":[{"filter":"datum.v == -100"}],"mark":{"type":"text","align":"right","baseline":"middle","dx":-10},
    "encoding":{"x":{"field":"v","type":"quantitative"},"y":{"field":"i","type":"quantitative"},"text":{"field":"s","type":"nominal"}}},
   {"data":{"name":"ann2c"},"mark":{"type":"text","baseline":"middle","align":"center","fontSize":11},"encoding":{"x":{"field":"x","type":"quantitative"},"y":{"field":"y","type":"quantitative"},"text":{"field":"txt","type":"nominal"}}},
   {"data":{"values":[{"x":-2.2,"y":0.577}]},"mark":{"type":"text","text":"I","fontStyle":"italic","fontSize":11,"baseline":"middle"},"encoding":{"x":{"field":"x","type":"quantitative"},"y":{"field":"y","type":"quantitative"}}},
   {"data":{"values":[{"x":-125.3,"y":0.474}]},"mark":{"type":"text","text":"c","fontWeight":"bold","fontSize":10,"baseline":"middle"},"encoding":{"x":{"field":"x","type":"quantitative"},"y":{"field":"y","type":"quantitative"}}},
   {"data":{"values":[{"x":-145,"y":-0.83}]},"mark":{"type":"text","text":"[QX-222]","angle":270,"fontSize":10.5,"baseline":"middle"},"encoding":{"x":{"field":"x","type":"quantitative"},"y":{"field":"y","type":"quantitative"}}}
  ]},
 {"width":345,"height":98,
  "data":{"values":[
   {"n":1,"s":"Inhibition of ACh-evoked currents by QX-222 in rat"},
   {"n":2,"s":"isolated parasympathetic neurones. (a) Family of currents evoked by"},
   {"n":3,"s":"brief pulses (10 ms) of ACh focally applied to an isolated neurone"},
   {"n":4,"s":"held at the indicated membrane potentials. (b) ACh-evoked currents"},
   {"n":5,"s":"obtained from the same neurone in the presence of bath applied"},
   {"n":6,"s":"10 μM QX-222. (c) I-V relation of ACh-evoked currents obtained in"},
   {"n":7,"s":"the absence (control) and presence of QX-222 at the concentrations"},
   {"n":8,"s":"indicated."}
  ]},
  "layer":[
   {"transform":[{"filter":"datum.n > 1"}],"mark":{"type":"text","align":"left","baseline":"middle","font":"Liberation Serif","fontSize":11},
    "encoding":{"x":{"datum":8,"type":"quantitative","scale":{"domain":[0,345],"nice":false,"zero":false},"axis":null},
     "y":{"field":"n","type":"quantitative","scale":{"domain":[-0.506,9.535],"reverse":true,"nice":false,"zero":false},"axis":null},
     "text":{"field":"s","type":"nominal"}}},
   {"transform":[{"filter":"datum.n == 1"}],"mark":{"type":"text","align":"left","baseline":"middle","font":"Liberation Serif","fontSize":11,"dx":52},
    "encoding":{"x":{"datum":8,"type":"quantitative"},"y":{"field":"n","type":"quantitative"},"text":{"field":"s","type":"nominal"}}},
   {"transform":[{"filter":"datum.n == 1"}],"mark":{"type":"text","text":"Figure 2","align":"left","baseline":"middle","font":"Liberation Serif","fontWeight":"bold","fontSize":11.5},
    "encoding":{"x":{"datum":8,"type":"quantitative"},"y":{"field":"n","type":"quantitative"}}}
  ]}
]},
{"bounds":"flush","spacing":0,"vconcat":[
 {"width":320,"height":475,
  "data":{"values":[
   {"n":1,"s":"tion of current amplitude at negative potentials (Figure 2c),"},
   {"n":2,"s":"but no alteration of the reversal potential, nor any significant"},
   {"n":3,"s":"reduction of current amplitude at positive potentials. The"},
   {"n":4,"s":"effects of QX-222 on the ACh-induced current amplitude and"},
   {"n":5,"s":"decay rate, were rapidly reversed upon washout."},
   {"n":6,"s":"Whole-cell recordings of representative ACh-evoked cur-"},
   {"n":7,"s":"rents obtained at − 80 mV in the absence and presence of"},
   {"n":8,"s":"increasing concentrations of QX-222 are shown in Figure 3a."},
   {"n":9,"s":"Raising the external QX-222 concentration reduced the ACh-"},
   {"n":10,"s":"evoked current amplitude, and increased the time course of"},
   {"n":11,"s":"decay in a concentration-dependent manner (Figure 3a). The"},
   {"n":12,"s":"half time of current decay increased from 0.40 ± 0.03 s (con-"},
   {"n":13,"s":"trol) to 0.51 ± 0.05 s and 0.64 ± 0.05 s (n = 5 cells) in the"},
   {"n":14,"s":"presence of 30 μM and 100 μM QX-222, respectively. Figure"},
   {"n":15,"s":"3b plots a normalized dose-response relationship obtained for"},
   {"n":16,"s":"the inhibition of ACh-evoked current by QX-222. The rela-"},
   {"n":17,"s":"tionship was fit with a single-site adsorption isotherm with a"},
   {"n":18,"s":"half-maximal inhibition at 28 μM."},
   {"n":19,"s":"The influence of membrane potential on QX-222 inhibition"},
   {"n":20,"s":"of whole-cell ACh-evoked currents is shown in Figure 4."},
   {"n":21,"s":"ACh-evoked current amplitude versus membrane potential,"},
   {"n":22,"s":"in the absence and presence of QX-222, is plotted in Figure"},
   {"n":23,"s":"2c. Membrane hyperpolarization increased the inhibition of"},
   {"n":24,"s":"inward ACh-induced current amplitude: the change from"},
   {"n":25,"s":"− 20 mV to − 100 mV produced a 36% increase in inhibi-"},
   {"n":26,"s":"tion of ACh-evoked current amplitude by 100 μM QX-222."},
   {"n":27,"s":"The ratio (Λ) of the control ACh-evoked current amplitude to"},
   {"n":28,"s":"that obtained in the presence of 100 μM QX-222, was deter-"}
  ]},
  "encoding":{"x":{"datum":6,"type":"quantitative","scale":{"domain":[0,320],"nice":false,"zero":false},"axis":null},
   "y":{"field":"n","type":"quantitative","scale":{"domain":[-3.69,31.5],"reverse":true,"nice":false,"zero":false},"axis":null},
   "text":{"field":"s","type":"nominal"}},
  "layer":[
   {"transform":[{"filter":"datum.n != 6 && datum.n != 19"}],"mark":{"type":"text","align":"left","baseline":"middle","font":"Liberation Serif","fontSize":13}},
   {"transform":[{"filter":"datum.n == 6 || datum.n == 19"}],"mark":{"type":"text","align":"left","baseline":"middle","font":"Liberation Serif","fontSize":13,"dx":13}}
  ]},
 {"width":320,"height":216,
  "layer":[
   {"data":{"name":"tr3a"},"mark":{"type":"line","strokeWidth":1},
    "encoding":{"x":{"field":"t","type":"quantitative","scale":{"domain":[-0.986,3.54],"nice":false,"zero":false},"axis":null},
     "y":{"field":"i","type":"quantitative","scale":{"domain":[-1.644,0.495],"nice":false,"zero":false},"axis":null},
     "detail":{"field":"k","type":"nominal"}}},
   {"data":{"name":"lab3a"},"mark":{"type":"rule","strokeWidth":1},"encoding":{"x":{"field":"x0","type":"quantitative"},"x2":{"field":"pt"},"y":{"field":"li","type":"quantitative"}}},
   {"data":{"name":"lab3a"},"mark":{"type":"text","align":"right","baseline":"middle","dx":-3},"encoding":{"x":{"field":"x0","type":"quantitative"},"y":{"field":"li","type":"quantitative"},"text":{"field":"v","type":"nominal"}}},
   {"data":{"name":"seg3a"},"mark":{"type":"rule","strokeWidth":1},"encoding":{"x":{"field":"x","type":"quantitative"},"y":{"field":"y","type":"quantitative"},"x2":{"field":"x2"},"y2":{"field":"y2"}}},
   {"data":{"name":"ann3a"},"mark":{"type":"text","align":"center","baseline":"middle","fontSize":11},"encoding":{"x":{"field":"x","type":"quantitative"},"y":{"field":"y","type":"quantitative"},"text":{"field":"txt","type":"nominal"}}},
   {"data":{"values":[{"x":-0.76,"y":0.42}]},"mark":{"type":"text","text":"a","fontWeight":"bold","fontSize":10,"baseline":"middle"},"encoding":{"x":{"field":"x","type":"quantitative"},"y":{"field":"y","type":"quantitative"}}},
   {"data":{"values":[{"x":0.0,"y":0.3}]},"mark":{"type":"point","shape":"triangle-down","size":110,"filled":false,"stroke":"#111","strokeWidth":1.3,"opacity":1},"encoding":{"x":{"field":"x","type":"quantitative"},"y":{"field":"y","type":"quantitative"}}}
  ]},
 {"width":320,"height":210.7,
  "layer":[
   {"data":{"name":"ax3b"},"mark":{"type":"rule","strokeWidth":1},
    "encoding":{"x":{"field":"x","type":"quantitative","scale":{"type":"log","domain":[5.085e-9,8.91e-3],"nice":false},"axis":null},
     "y":{"field":"y","type":"quantitative","scale":{"domain":[-0.05,1.0],"nice":false,"zero":false},"axis":null},
     "x2":{"field":"x2"},"y2":{"field":"y2"}}},
   {"data":{"name":"yt3b"},"mark":{"type":"tick","orient":"horizontal","size":5,"thickness":1,"xOffset":-2.5},"encoding":{"x":{"datum":1e-7,"type":"quantitative"},"y":{"field":"y","type":"quantitative"}}},
   {"data":{"name":"yt3b"},"mark":{"type":"text","align":"right","baseline":"middle","dx":-8,"fontSize":10},"encoding":{"x":{"datum":1e-7,"type":"quantitative"},"y":{"field":"y","type":"quantitative"},"text":{"field":"l","type":"nominal"}}},
   {"data":{"name":"minor"},"mark":{"type":"tick","orient":"vertical","size":3,"thickness":0.8,"yOffset":-1.5},"encoding":{"x":{"field":"c","type":"quantitative"},"y":{"datum":-0.05,"type":"quantitative"}}},
   {"data":{"name":"major"},"mark":{"type":"tick","orient":"vertical","size":6,"thickness":1,"yOffset":-3},"encoding":{"x":{"field":"c","type":"quantitative"},"y":{"datum":-0.05,"type":"quantitative"}}},
   {"data":{"name":"major"},"mark":{"type":"text","align":"center","baseline":"top","dy":5,"fontSize":10},"encoding":{"x":{"field":"c","type":"quantitative"},"y":{"datum":-0.05,"type":"quantitative"},"text":{"field":"l","type":"nominal"}}},
   {"data":{"values":[{"c":1e-5,"y":-0.05}]},"mark":{"type":"text","text":"[QX-222]","align":"center","baseline":"top","dy":17,"fontSize":11},"encoding":{"x":{"field":"c","type":"quantitative"},"y":{"field":"y","type":"quantitative"}}},
   {"data":{"values":[{"c":1.306e-8,"y":0.475}]},"mark":{"type":"text","text":"Normalized current amplitude","angle":270,"align":"center","baseline":"middle","fontSize":11},"encoding":{"x":{"field":"c","type":"quantitative"},"y":{"field":"y","type":"quantitative"}}},
   {"data":{"name":"fit"},"mark":{"type":"line","interpolate":"monotone","strokeWidth":1},"encoding":{"x":{"field":"c","type":"quantitative"},"y":{"field":"y","type":"quantitative"}}},
   {"data":{"name":"dr"},"transform":[{"filter":"isValid(datum.lo)"}],"mark":{"type":"rule","strokeWidth":1},"encoding":{"x":{"field":"c","type":"quantitative"},"y":{"field":"lo","type":"quantitative"},"y2":{"field":"hi"}}},
   {"data":{"name":"dr"},"transform":[{"filter":"isValid(datum.lo)"}],"mark":{"type":"tick","orient":"horizontal","size":7,"thickness":1},"encoding":{"x":{"field":"c","type":"quantitative"},"y":{"field":"lo","type":"quantitative"}}},
   {"data":{"name":"dr"},"transform":[{"filter":"isValid(datum.hi)"}],"mark":{"type":"tick","orient":"horizontal","size":7,"thickness":1},"encoding":{"x":{"field":"c","type":"quantitative"},"y":{"field":"hi","type":"quantitative"}}},
   {"data":{"name":"dr"},"mark":{"type":"point","filled":true,"shape":"circle","size":70,"color":"#111","opacity":1},"encoding":{"x":{"field":"c","type":"quantitative"},"y":{"field":"y","type":"quantitative"}}},
   {"data":{"values":[{"c":1.14e-8,"y":1.055}]},"mark":{"type":"text","text":"b","fontWeight":"bold","fontSize":10,"baseline":"middle"},"encoding":{"x":{"field":"c","type":"quantitative"},"y":{"field":"y","type":"quantitative"}}}
  ]},
 {"width":320,"height":133.3,
  "data":{"values":[
   {"n":1,"s":"Concentration-dependence of QX-222 block of ACh-ev-"},
   {"n":2,"s":"oked currents. (a) ACh-evoked currents obtained in the absence"},
   {"n":3,"s":"(control) and presence of bath applied QX-222. Holding potential,"},
   {"n":4,"s":"− 80 mV. (b) Relative amplitude of ACh-evoked currents (at − 80"},
   {"n":5,"s":"mV) normalized to control, as a function of QX-222 concentration."},
   {"n":6,"s":"Data points represent the mean ± s.e.mean for five cells. The curve is"},
   {"n":7,"s":"a best fit of the data by a single-site adsorption isotherm with a"},
   {"n":8,"s":"half-maximal inhibition IC₅₀ of 28 μM."}
  ]},
  "layer":[
   {"transform":[{"filter":"datum.n > 1"}],"mark":{"type":"text","align":"left","baseline":"middle","font":"Liberation Serif","fontSize":11},
    "encoding":{"x":{"datum":0,"type":"quantitative","scale":{"domain":[0,320],"nice":false,"zero":false},"axis":null},
     "y":{"field":"n","type":"quantitative","scale":{"domain":[-4.073,9.45],"reverse":true,"nice":false,"zero":false},"axis":null},
     "text":{"field":"s","type":"nominal"}}},
   {"transform":[{"filter":"datum.n == 1"}],"mark":{"type":"text","align":"left","baseline":"middle","font":"Liberation Serif","fontSize":11,"dx":58},
    "encoding":{"x":{"datum":0,"type":"quantitative"},"y":{"field":"n","type":"quantitative"},"text":{"field":"s","type":"nominal"}}},
   {"transform":[{"filter":"datum.n == 1"}],"mark":{"type":"text","text":"Figure 3","align":"left","baseline":"middle","font":"Liberation Serif","fontWeight":"bold","fontSize":11.5},
    "encoding":{"x":{"datum":0,"type":"quantitative"},"y":{"field":"n","type":"quantitative"}}}
  ]}
]}
]
}
